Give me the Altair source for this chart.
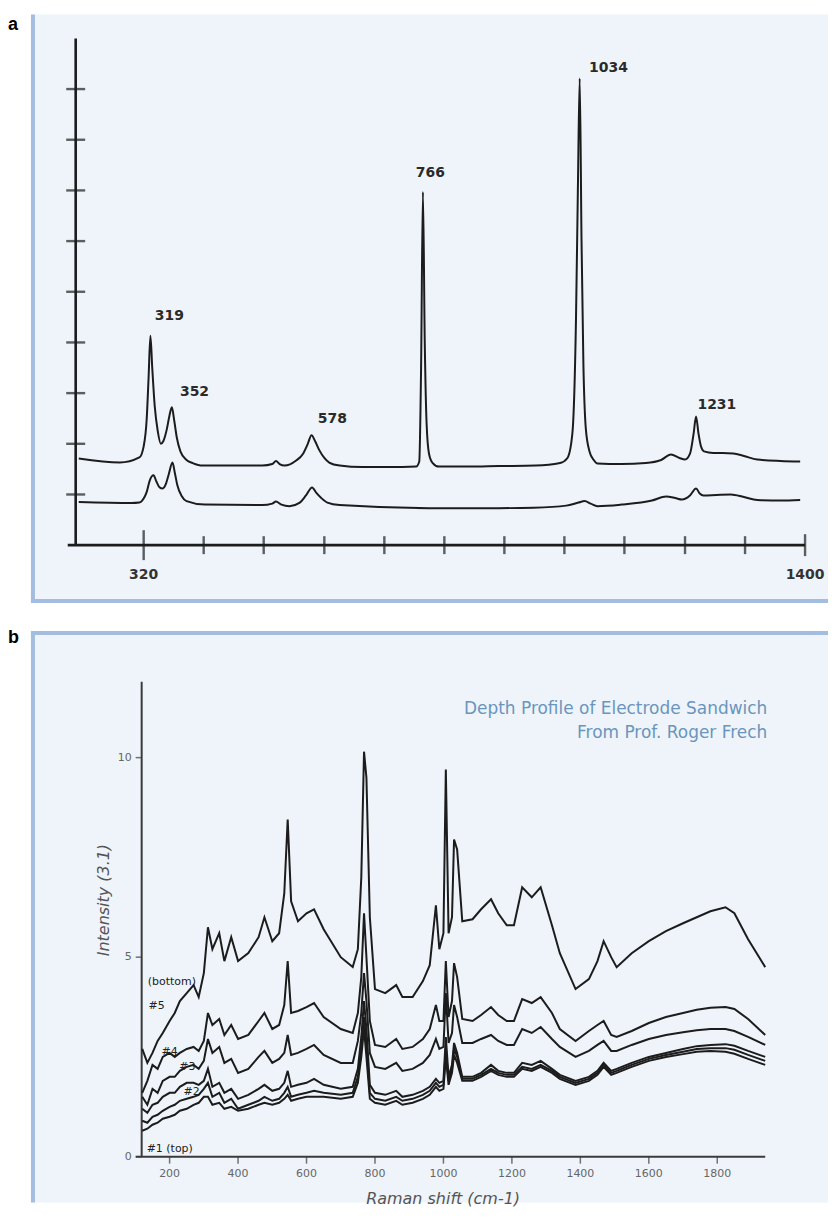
import altair as alt
import pandas as pd

# ================= Panel a data =================
a_top_x = [214, 281, 313, 320, 325, 328, 331, 334, 338, 343, 348, 352, 358, 362, 366, 370, 374, 380, 390, 400,
           416, 514, 530, 536, 542, 550, 569, 580, 588, 594, 600, 607, 615, 623, 640, 677, 720, 765, 770, 773,
           776, 779, 782, 786, 792, 802, 850, 900, 960, 1000, 1012, 1020, 1026, 1029, 1032, 1035, 1038, 1042, 1048, 1055,
           1061, 1100, 1140, 1165, 1181, 1195, 1204, 1212, 1218, 1222, 1226, 1230, 1235, 1250, 1265, 1283, 1300, 1322, 1360, 1392]
a_top_y = [1.71, 1.63, 1.73, 1.95, 2.5, 3.3, 4.13, 3.5, 2.75, 2.25, 2.0, 2.05, 2.3, 2.55, 2.72, 2.45, 2.13, 1.85, 1.68, 1.62,
           1.57, 1.57, 1.6, 1.66, 1.6, 1.57, 1.67, 1.8, 2.0, 2.17, 2.05, 1.87, 1.72, 1.63, 1.57, 1.54, 1.54, 1.55, 1.65, 3.5,
           6.97, 4.0, 2.4, 1.8, 1.62, 1.55, 1.55, 1.56, 1.57, 1.62, 1.72, 2.2, 4.5, 7.0, 9.21, 6.0, 3.6, 2.3, 1.85, 1.68,
           1.61, 1.6, 1.62, 1.68, 1.79, 1.72, 1.69, 1.8, 2.2, 2.54, 2.2, 1.95, 1.85, 1.82, 1.82, 1.81, 1.76, 1.69, 1.66, 1.65]

a_bot_x = [214, 300, 313, 320, 325, 330, 336, 341, 346, 351, 356, 361, 367, 371, 375, 382, 390, 420, 514, 530,
           536, 545, 558, 575, 585, 595, 602, 610, 620, 640, 786, 900, 957, 1010, 1030, 1040, 1050, 1061, 1100, 1150,
           1173, 1188, 1199, 1212, 1222, 1228, 1234, 1255, 1279, 1300, 1322, 1360, 1392]
a_bot_y = [0.85, 0.83, 0.84, 0.92, 1.05, 1.28, 1.38, 1.25, 1.14, 1.12, 1.2, 1.4, 1.63, 1.42, 1.18, 0.97, 0.87, 0.8, 0.79, 0.82,
           0.86, 0.8, 0.77, 0.84, 0.98, 1.14, 1.03, 0.93, 0.84, 0.79, 0.73, 0.73, 0.74, 0.78, 0.84, 0.87, 0.82, 0.77, 0.8, 0.88,
           0.96, 0.93, 0.9, 0.98, 1.12, 1.02, 0.98, 0.99, 1.0, 0.95, 0.89, 0.88, 0.89]

a_peak_text = ["319", "352", "578", "766", "1034", "1231"]
a_peak_lx = [362, 403, 628, 788, 1079, 1256]
a_peak_ly = [4.53, 3.03, 2.48, 7.34, 9.41, 2.77]

a_xticks = [320, 418, 516, 615, 713, 811, 909, 1007, 1105, 1204, 1302, 1400]
a_xtick_len = [30, 18, 18, 18, 18, 18, 18, 18, 18, 18, 18, 22]
a_xtick_labels = ["320", "1400"]
a_xtick_label_pos = [320, 1400]
a_yticks = [1, 2, 3, 4, 5, 6, 7, 8, 9]
a_axis_x0, a_axis_x1 = 196, 1400
a_axis_yorigin = 209
a_axis_ytop = 10

# ================= Panel b data =================
b_x = [120, 135, 150, 165, 180, 200, 215, 230, 250, 270, 285, 300, 312, 325, 345, 360, 380, 400, 430, 460,
       477, 500, 520, 535, 545, 555, 575, 600, 622, 650, 700, 735, 750, 760, 768, 775, 785, 800, 830, 862,
       880, 910, 940, 960, 978, 988, 1000, 1007, 1015, 1025, 1031, 1040, 1055, 1085, 1110, 1139, 1160, 1185, 1206, 1230,
       1258, 1284, 1317, 1340, 1386, 1425, 1450, 1468, 1490, 1506, 1550, 1600, 1650, 1700, 1740, 1780, 1824, 1850, 1890, 1940]

b_s6 = [2.7, 2.35, 2.6, 2.9, 3.1, 3.4, 3.6, 3.9, 4.1, 4.3, 4.0, 4.6, 5.75, 5.2, 5.6, 4.9, 5.5, 4.9, 5.1, 5.5,
        6.0, 5.4, 5.6, 6.6, 8.45, 6.4, 5.9, 6.1, 6.2, 5.7, 5.0, 4.75, 5.2, 7.0, 10.15, 9.5, 6.0, 4.2, 4.1, 4.3,
        4.0, 4.0, 4.4, 4.8, 6.3, 5.2, 5.6, 9.7, 5.6, 6.0, 7.95, 7.7, 5.9, 5.95, 6.2, 6.45, 6.1, 5.8, 5.8, 6.75,
        6.5, 6.75, 5.8, 5.1, 4.2, 4.45, 4.9, 5.4, 5.0, 4.75, 5.1, 5.4, 5.65, 5.85, 6.0, 6.15, 6.25, 6.1, 5.45, 4.75]
b_s5 = [1.6, 1.9, 2.3, 2.2, 2.5, 2.6, 2.5, 2.6, 2.7, 2.75, 2.65, 2.9, 3.6, 3.3, 3.45, 3.05, 3.3, 2.95, 3.05, 3.4,
        3.6, 3.2, 3.3, 3.8, 4.9, 3.6, 3.65, 3.75, 3.85, 3.5, 3.2, 3.1, 3.6, 4.5, 6.1, 5.0, 3.4, 2.8, 2.75, 2.95,
        2.7, 2.75, 2.95, 3.2, 3.8, 3.4, 3.4, 4.9, 3.5, 3.9, 4.85, 4.5, 3.45, 3.4, 3.55, 3.75, 3.55, 3.4, 3.4, 3.95,
        3.85, 4.0, 3.6, 3.2, 2.9, 3.15, 3.3, 3.4, 3.05, 3.0, 3.15, 3.35, 3.5, 3.6, 3.68, 3.73, 3.75, 3.7, 3.45, 3.05]
b_s4 = [1.5, 1.3, 1.7, 1.6, 1.9, 2.0, 2.0, 2.15, 2.25, 2.3, 2.2, 2.4, 2.95, 2.6, 2.75, 2.35, 2.45, 2.1, 2.2, 2.5,
        2.65, 2.35, 2.45, 2.6, 3.05, 2.55, 2.6, 2.7, 2.8, 2.55, 2.35, 2.35, 2.9, 3.6, 4.6, 3.9, 2.6, 2.25, 2.2, 2.35,
        2.15, 2.2, 2.35, 2.55, 2.95, 2.7, 2.75, 4.1, 2.85, 3.1, 3.8, 3.5, 2.85, 2.85, 2.95, 3.05, 2.9, 2.8, 2.8, 3.2,
        3.1, 3.25, 2.95, 2.75, 2.5, 2.65, 2.8, 2.9, 2.65, 2.65, 2.8, 2.95, 3.05, 3.12, 3.17, 3.2, 3.2, 3.15, 3.0, 2.8]
b_s3 = [1.2, 1.1, 1.3, 1.35, 1.5, 1.6, 1.6, 1.75, 1.85, 1.85, 1.8, 1.9, 2.2, 1.75, 1.85, 1.6, 1.7, 1.45, 1.55, 1.7,
        1.8, 1.65, 1.7, 1.85, 2.15, 1.75, 1.8, 1.85, 1.95, 1.8, 1.7, 1.75, 2.2, 3.0, 3.9, 3.2, 1.8, 1.6, 1.55, 1.65,
        1.5, 1.55, 1.65, 1.75, 1.95, 1.85, 1.9, 3.0, 2.0, 2.3, 2.85, 2.6, 2.0, 2.0, 2.1, 2.3, 2.15, 2.1, 2.1, 2.35,
        2.3, 2.4, 2.2, 2.05, 1.9, 2.0, 2.15, 2.35, 2.15, 2.2, 2.35, 2.5, 2.6, 2.7, 2.77, 2.8, 2.82, 2.78, 2.65, 2.5]
b_s2 = [0.9, 0.85, 1.0, 1.05, 1.15, 1.25, 1.3, 1.4, 1.45, 1.5, 1.55, 1.7, 1.85, 1.5, 1.6, 1.35, 1.45, 1.2, 1.3, 1.4,
        1.5, 1.4, 1.45, 1.6, 1.75, 1.5, 1.55, 1.6, 1.65, 1.6, 1.55, 1.6, 2.0, 2.7, 3.5, 2.8, 1.6, 1.45, 1.4, 1.5,
        1.4, 1.45, 1.55, 1.65, 1.85, 1.75, 1.8, 2.7, 1.9, 2.2, 2.7, 2.5, 1.95, 1.95, 2.05, 2.2, 2.1, 2.05, 2.05, 2.25,
        2.2, 2.3, 2.15, 2.0, 1.85, 1.95, 2.1, 2.3, 2.1, 2.15, 2.3, 2.45, 2.55, 2.63, 2.7, 2.72, 2.72, 2.68, 2.55, 2.4]
b_s1 = [0.65, 0.7, 0.8, 0.85, 0.95, 1.0, 1.05, 1.15, 1.2, 1.3, 1.35, 1.5, 1.5, 1.3, 1.35, 1.2, 1.25, 1.15, 1.2, 1.3,
        1.35, 1.3, 1.35, 1.45, 1.55, 1.4, 1.45, 1.5, 1.5, 1.5, 1.45, 1.5, 1.85, 2.5, 3.2, 2.5, 1.45, 1.35, 1.3, 1.4,
        1.3, 1.35, 1.45, 1.55, 1.75, 1.65, 1.7, 2.5, 1.8, 2.1, 2.55, 2.35, 1.9, 1.9, 2.0, 2.15, 2.05, 2.0, 2.0, 2.2,
        2.15, 2.25, 2.1, 1.95, 1.8, 1.9, 2.05, 2.25, 2.05, 2.1, 2.25, 2.4, 2.5, 2.57, 2.63, 2.65, 2.63, 2.58, 2.45, 2.3]

b_series_ids = ["#1", "#2", "#3", "#4", "#5", "#6"]
b_curve_labels = ["#1  (top)", "#2", "#3", "#4", "#5", "(bottom)"]
b_label_x = [133, 264, 252, 200, 162, 136]
b_label_y = [0.2, 1.63, 2.25, 2.63, 3.78, 4.375]
b_label_align = ["left", "center", "center", "center", "center", "left"]

b_xticks = [200, 400, 600, 800, 1000, 1200, 1400, 1600, 1800]
b_yticks = [0, 5, 10]
b_axis_x0, b_axis_x1 = 101, 1940
b_axis_yorigin = 118.4
b_axis_ytop = 11.9
b_title_lines = ["Depth Profile of Electrode Sandwich", "From Prof. Roger Frech"]
b_title_y = [11.225, 10.625]
b_title_x = 1946
b_xlabel = "Raman shift (cm-1)"
b_ylabel = "Intensity (3.1)"

# ================= layout helpers =================
W = 822          # plot width (page x 8..830)
HA = 600         # panel a height (page y 8..608)
HB = 596         # panel b height (page y 608..1204)
FONT = "DejaVu Sans"
INK = "#1c1c1c"
BG = "#eef4fa"
BORDER = "#a3bde0"


def domain(p_a, v_a, p_b, v_b, p_lo, p_hi):
    s = (p_b - p_a) / (v_b - v_a)
    return [v_a + (p_lo - p_a) / s, v_a + (p_hi - p_a) / s]


a_xdom = domain(144, 320, 807, 1400, 8, 8 + W)
a_ydom = domain(545, 0, 37, 10, 8 + HA, 8)
b_xdom = domain(170, 200, 719, 1800, 8, 8 + W)
b_ydom = domain(1158, 0, 758, 10, 8 + HA + HB, 8 + HA)


def X(dom, field="x"):
    return alt.X(f"{field}:Q", scale=alt.Scale(domain=dom, nice=False, zero=False), axis=None)


def Y(dom, field="y"):
    return alt.Y(f"{field}:Q", scale=alt.Scale(domain=dom, nice=False, zero=False), axis=None)


one = pd.DataFrame({"k": [0]})

# ================= Panel a =================
a_lines = pd.concat([
    pd.DataFrame({"x": a_top_x, "y": a_top_y, "s": "upper"}),
    pd.DataFrame({"x": a_bot_x, "y": a_bot_y, "s": "lower"}),
])
a_peaks = pd.DataFrame({"x": a_peak_lx, "y": a_peak_ly, "t": a_peak_text})
a_xt = pd.DataFrame({"x": a_xticks, "y": [0] * len(a_xticks), "len": a_xtick_len})
a_yt = pd.DataFrame({"x": [a_axis_yorigin] * len(a_yticks), "y": a_yticks})
a_xl = pd.DataFrame({"x": a_xtick_label_pos, "y": [-0.59, -0.59], "t": a_xtick_labels})
a_axes = pd.DataFrame({"x": [a_axis_x0, a_axis_yorigin], "x2": [a_axis_x1, a_axis_yorigin],
                       "y": [0, 0], "y2": [0, a_axis_ytop]})

pa = alt.layer(
    alt.Chart(one).mark_rect(color=BG).encode(x=alt.value(23), x2=alt.value(W), y=alt.value(5), y2=alt.value(595)),
    alt.Chart(one).mark_rule(color=BORDER, strokeWidth=4).encode(x=alt.value(25), y=alt.value(5), y2=alt.value(595)),
    alt.Chart(one).mark_rule(color=BORDER, strokeWidth=4).encode(y=alt.value(593), x=alt.value(23), x2=alt.value(W)),
    alt.Chart(pd.DataFrame({"t": ["a"]})).mark_text(align="left", baseline="alphabetic", font="Liberation Sans",
                                                     fontSize=18, fontWeight="bold", color="#000").encode(
        x=alt.value(0), y=alt.value(21), text="t:N"),
    alt.Chart(a_axes).mark_rule(color=INK, strokeWidth=2.6).encode(
        x=X(a_xdom), x2="x2:Q", y=Y(a_ydom), y2="y2:Q"),
    alt.Chart(a_yt).mark_tick(orient="horizontal", size=19, thickness=2.4, color=INK).encode(
        x=X(a_xdom), y=Y(a_ydom)),
    alt.Chart(a_xt).mark_tick(orient="vertical", thickness=2.4, color=INK).encode(
        x=X(a_xdom), y=Y(a_ydom), size=alt.Size("len:Q", scale=None)),
    alt.Chart(a_lines).mark_line(color=INK, strokeWidth=2, interpolate="monotone").encode(
        x=X(a_xdom), y=Y(a_ydom), detail="s:N"),
    alt.Chart(a_peaks).mark_text(font=FONT, fontSize=14, fontWeight="bold", color="#2a2a2a",
                                 baseline="middle").encode(x=X(a_xdom), y=Y(a_ydom), text="t:N"),
    alt.Chart(a_xl).mark_text(font=FONT, fontSize=14, fontWeight="bold", color="#333",
                              baseline="middle").encode(x=X(a_xdom), y=Y(a_ydom), text="t:N"),
).properties(width=W, height=HA)

# ================= Panel b =================
b_series = [b_s1, b_s2, b_s3, b_s4, b_s5, b_s6]
b_lines = pd.concat([pd.DataFrame({"x": b_x, "y": s, "s": sid}) for s, sid in zip(b_series, b_series_ids)])
b_lab = pd.DataFrame({"x": b_label_x, "y": b_label_y, "t": b_curve_labels, "a": b_label_align})
b_lab_left = b_lab[b_lab["a"] == "left"]
b_lab_center = b_lab[b_lab["a"] == "center"]
b_xt = pd.DataFrame({"x": b_xticks, "y": [0] * len(b_xticks), "t": [str(v) for v in b_xticks]})
b_yt = pd.DataFrame({"x": [b_axis_yorigin] * len(b_yticks), "y": b_yticks, "t": [str(v) for v in b_yticks]})
b_axes = pd.DataFrame({"x": [b_axis_x0, b_axis_yorigin], "x2": [b_axis_x1, b_axis_yorigin],
                       "y": [0, 0], "y2": [0, b_axis_ytop]})
b_tt = pd.DataFrame({"x": [b_title_x] * 2, "y": b_title_y, "t": b_title_lines})
b_xtitle = pd.DataFrame({"x": [999], "y": [-1.05], "t": [b_xlabel]})
b_ytitle = pd.DataFrame({"x": [7.6], "y": [6.43], "t": [b_ylabel]})

AX = "#3a3a3a"
pb = alt.layer(
    alt.Chart(one).mark_rect(color=BG).encode(x=alt.value(23), x2=alt.value(W), y=alt.value(23), y2=alt.value(HB)),
    alt.Chart(one).mark_rule(color=BORDER, strokeWidth=4).encode(x=alt.value(25), y=alt.value(23), y2=alt.value(HB)),
    alt.Chart(one).mark_rule(color=BORDER, strokeWidth=4).encode(y=alt.value(25), x=alt.value(23), x2=alt.value(W)),
    alt.Chart(pd.DataFrame({"t": ["b"]})).mark_text(align="left", baseline="alphabetic", font="Liberation Sans",
                                                     fontSize=18, fontWeight="bold", color="#000").encode(
        x=alt.value(0), y=alt.value(35), text="t:N"),
    alt.Chart(b_axes).mark_rule(color=AX, strokeWidth=2).encode(
        x=X(b_xdom), x2="x2:Q", y=Y(b_ydom), y2="y2:Q"),
    alt.Chart(b_yt).mark_tick(orient="horizontal", size=6, thickness=1.5, color=AX, xOffset=-3).encode(
        x=X(b_xdom), y=Y(b_ydom)),
    alt.Chart(b_xt).mark_tick(orient="vertical", size=7, thickness=1.5, color=AX, yOffset=3.5).encode(
        x=X(b_xdom), y=Y(b_ydom)),
    alt.Chart(b_xt).mark_text(font=FONT, fontSize=11, color="#666", baseline="top", dy=11).encode(
        x=X(b_xdom), y=Y(b_ydom), text="t:N"),
    alt.Chart(b_yt).mark_text(font=FONT, fontSize=11, color="#666", align="right", baseline="middle", dx=-10).encode(
        x=X(b_xdom), y=Y(b_ydom), text="t:N"),
    alt.Chart(b_lines).mark_line(color=INK, strokeWidth=2).encode(
        x=X(b_xdom), y=Y(b_ydom), detail="s:N"),
    alt.Chart(b_lab_left).mark_text(font=FONT, fontSize=11, color="#222", baseline="middle", align="left").encode(
        x=X(b_xdom), y=Y(b_ydom), text="t:N"),
    alt.Chart(b_lab_center).mark_text(font=FONT, fontSize=11, color="#222", baseline="middle", align="center").encode(
        x=X(b_xdom), y=Y(b_ydom), text="t:N"),
    alt.Chart(b_tt).mark_text(font=FONT, fontSize=17, color="#6a95bd", align="right", baseline="middle").encode(
        x=X(b_xdom), y=Y(b_ydom), text="t:N"),
    alt.Chart(b_xtitle).mark_text(font=FONT, fontSize=16, fontStyle="italic", color="#555",
                                  baseline="middle").encode(x=X(b_xdom), y=Y(b_ydom), text="t:N"),
    alt.Chart(b_ytitle).mark_text(font=FONT, fontSize=16, fontStyle="italic", color="#555", angle=270,
                                  baseline="middle").encode(x=X(b_xdom), y=Y(b_ydom), text="t:N"),
).properties(width=W, height=HB)

chart = alt.vconcat(pa, pb, spacing=0).configure_view(stroke=None).properties(padding=0, background="white")

chart.save("out.html", embed_options={"renderer": "svg", "actions": False})
